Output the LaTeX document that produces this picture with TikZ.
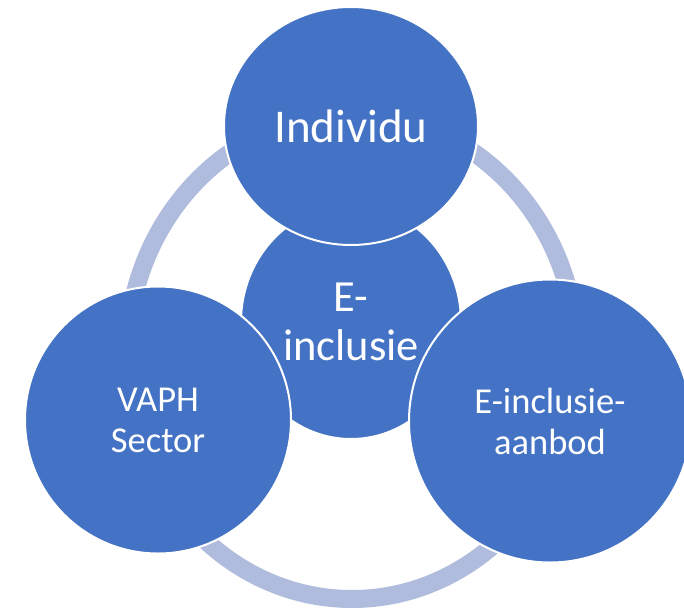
\documentclass[tikz,border=0pt]{standalone}
\usepackage{fontspec}
\setmainfont{Carlito}
\usetikzlibrary{shapes.geometric}

\definecolor{accentblue}{HTML}{4472C4}
\definecolor{ringblue}{RGB}{176,188,222}

\tikzset{
  bubble/.style={ellipse, fill=accentblue, draw=white, line width=2pt, inner sep=0pt, text=white, align=center},
  ring/.style={draw=ringblue, line width=18pt}
}

\begin{document}
\begin{tikzpicture}[x=1pt, y=-1pt]
\clip (0,0) rectangle (684,612);
\draw[ring] (352,356.5) ellipse [x radius=225, y radius=242.5];
\node[bubble, minimum width=220pt, minimum height=234pt, font=\fontsize{44.5}{49}\selectfont] (core) at (351,322) {E-\\inclusie};
\node[bubble, minimum width=254pt, minimum height=238pt, font=\fontsize{47}{52}\selectfont] (individu) at (351,126) {Individu};
\node[bubble, minimum width=266pt, minimum height=267pt, font=\fontsize{36.5}{41}\selectfont] (vaph) at (158,420) {VAPH\\Sector};
\node[bubble, minimum width=282pt, minimum height=283pt, font=\fontsize{36.5}{41}\selectfont] (aanbod) at (550,421) {E-inclusie-\\aanbod};
\end{tikzpicture}
\end{document}
